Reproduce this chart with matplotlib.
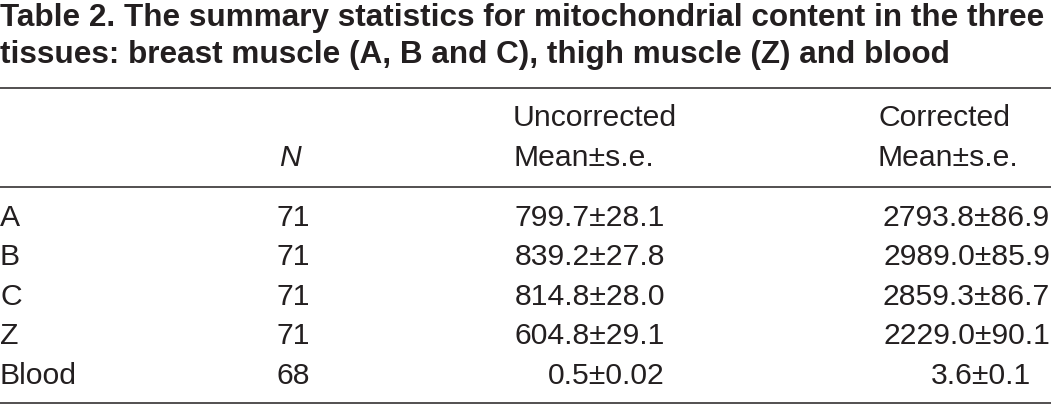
import matplotlib.pyplot as plt
from matplotlib.lines import Line2D

W, H = 1051, 406

title_lines = ["Table 2. The summary statistics for mitochondrial content in the three",
               "tissues: breast muscle (A, B and C), thigh muscle (Z) and blood"]
header_top = ["", "", "Uncorrected", "Corrected"]
header_bot = ["", "N", "Mean\u00b1s.e.", "Mean\u00b1s.e."]
tissues = ["A", "B", "C", "Z", "Blood"]
n_values = ["71", "71", "71", "71", "68"]
uncorrected = ["799.7\u00b128.1", "839.2\u00b127.8", "814.8\u00b128.0", "604.8\u00b129.1", "0.5\u00b10.02"]
corrected = ["2793.8\u00b186.9", "2989.0\u00b185.9", "2859.3\u00b186.7", "2229.0\u00b190.1", "3.6\u00b10.1"]

plt.rcParams['font.family'] = ['Liberation Sans', 'DejaVu Sans']
fig = plt.figure(figsize=(W / 100, H / 100), dpi=100)


def fx(px):
    return px / W


def fy(py):
    return 1 - py / H


def put(x, y, s, ha="left", **kw):
    fig.text(fx(x), fy(y), s, ha=ha, va="baseline", color="#231f20", **kw)


def rule(y):
    fig.add_artist(Line2D([0, 1], [fy(y), fy(y)], color="#231f20", lw=1.1))


fs = 21.7
put(0, 26, title_lines[0], fontsize=22.7, fontweight="bold")
put(0, 63, title_lines[1], fontsize=22.7, fontweight="bold")

rule(88.5)
rule(187.5)
rule(404)

put(513, 126, header_top[2], fontsize=fs)
put(878, 126, header_top[3], fontsize=fs)
put(279, 166, header_bot[1], fontsize=fs, style="italic")
put(513, 166, header_bot[2], fontsize=fs)
put(878, 166, header_bot[3], fontsize=fs)

row_y = [226, 265, 305, 344, 384]
for i in range(len(tissues)):
    y = row_y[i]
    put(0, y, tissues[i], fontsize=fs)
    put(277, y, n_values[i], fontsize=fs)
    put(665, y, uncorrected[i], ha="right", fontsize=fs)
    if i < 4:
        put(1050, y, corrected[i], ha="right", fontsize=fs)
    else:
        put(1031, y, corrected[i], ha="right", fontsize=fs)

fig.savefig("out.png", dpi=100, facecolor="white")
